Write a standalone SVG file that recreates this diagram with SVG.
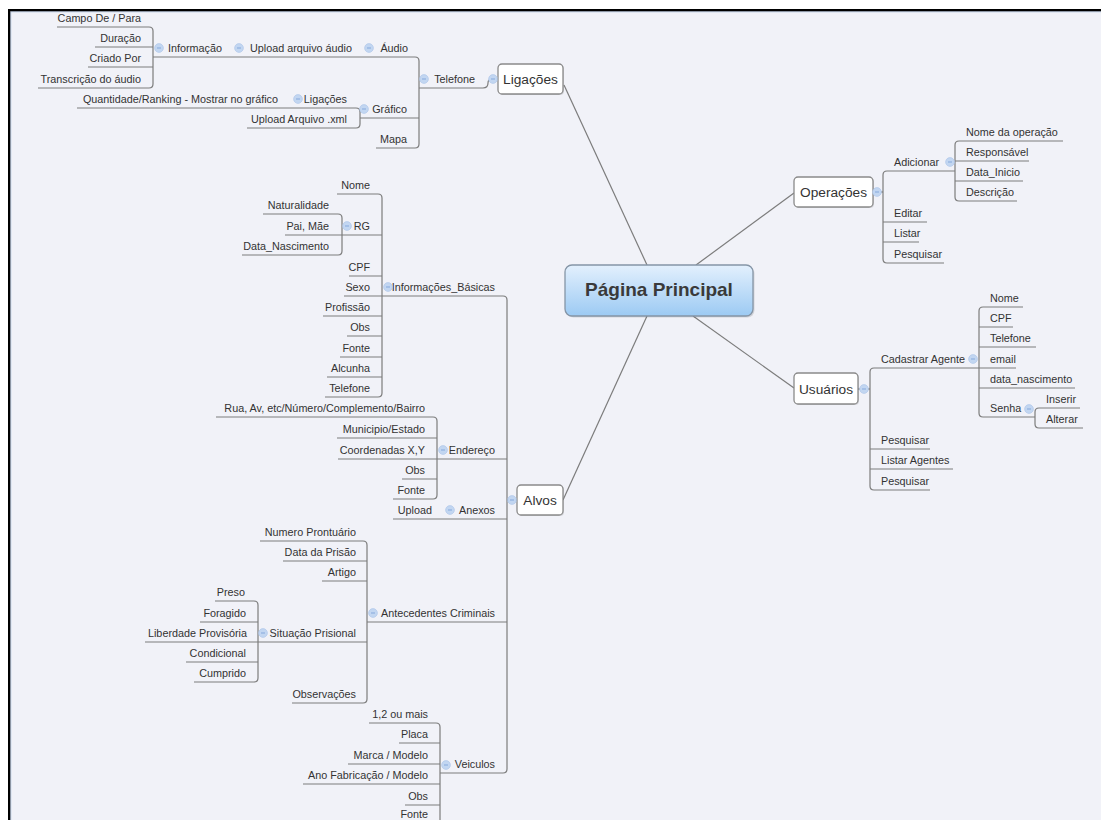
<svg xmlns="http://www.w3.org/2000/svg" width="1101" height="820" viewBox="0 0 1101 820">
  <style>
    .t { font-family: "Liberation Sans", Arial, sans-serif; font-size: 10.8px; fill: #333; }
    .e { text-anchor: end; }
    .bt { font-family: "Liberation Sans", Arial, sans-serif; font-size: 13.7px; fill: #333; text-anchor: middle; }
    .u { fill: none; stroke: #7c7c7c; stroke-width: 1.2; }
    .k { fill: none; stroke: #7c7c7c; stroke-width: 1.2; }
    .box { fill: #fff; stroke: #8a8a8a; stroke-width: 1.3; }
    .sh { fill: #000; opacity: 0.12; }
  </style>
  <defs>
    <linearGradient id="rootFill" x1="0" y1="0" x2="0" y2="1">
      <stop offset="0" stop-color="#e3f0fd"/>
      <stop offset="1" stop-color="#9ccaf3"/>
    </linearGradient>
    <g id="col">
      <circle r="4.4" fill="#c2d6f1" stroke="#a9c2e7" stroke-width="0.6"/>
      <path d="M-2 0H2" stroke="#86a9dc" stroke-width="1"/>
    </g>
  </defs>

  <!-- canvas and frame -->
  <rect width="1101" height="820" fill="#fff"/>
  <rect x="10" y="11" width="1091" height="809" fill="#f1f2f8"/>
  <path d="M10.8 820V11.8H1101" fill="none" stroke="#b9cce6" stroke-width="1"/>
  <rect x="8" y="9" width="1093" height="2.3" fill="#000"/>
  <rect x="8" y="9" width="2.3" height="811" fill="#000"/>

  <!-- connectors: branch lines from the central topic and the spines joining siblings -->
  <g id="connectors">
    <path class="k" d="M564 85L647 265"/>
    <path class="k" d="M696 265L794 193"/>
    <path class="k" d="M693 316L794 388"/>
    <path class="k" d="M647 316L563 500"/>

    <path class="k" d="M149 27Q153 27 153 31V84Q153 88 149 88"/>
    <path class="k" d="M415 57Q419 57 419 61V144Q419 148 415 148"/>
    <path class="k" d="M356 108Q360 108 360 112V124Q360 128 356 128"/>
    <path class="k" d="M419 88H483Q488 88 488 83Q488 79 492 79H498"/>

    <path class="k" d="M503 296Q507 296 507 300V769Q507 773 503 773"/>
    <path class="k" d="M507 500H517"/>
    <path class="k" d="M378 194Q382 194 382 198V393Q382 397 378 397"/>
    <path class="k" d="M338 214Q342 214 342 218V251Q342 255 338 255"/>
    <path class="k" d="M433 417Q437 417 437 421V495Q437 499 433 499"/>
    <path class="k" d="M363 541Q367 541 367 545V699Q367 703 363 703"/>
    <path class="k" d="M254 601Q258 601 258 605V678Q258 682 254 682"/>
    <path class="k" d="M436 723Q440 723 440 727V830"/>

    <path class="k" d="M873 192H883"/>
    <path class="k" d="M887 171Q883 171 883 175V259Q883 263 887 263"/>
    <path class="k" d="M959 141Q955 141 955 145V197Q955 201 959 201"/>

    <path class="k" d="M858 389H870"/>
    <path class="k" d="M874 368Q870 368 870 372V486Q870 490 874 490"/>
    <path class="k" d="M983 307Q979 307 979 311V413Q979 417 983 417"/>
    <path class="k" d="M1039 408Q1035 408 1035 412V424Q1035 428 1039 428"/>
  </g>

  <!-- central topic -->
  <g id="pagina-principal">
    <rect x="566.5" y="266.5" width="188" height="51" rx="7" class="sh"/>
    <rect x="565" y="265" width="188" height="51" rx="7" fill="url(#rootFill)" stroke="#8595a6" stroke-width="1.3"/>
    <text x="659" y="296" font-family="Liberation Sans, Arial, sans-serif" font-size="19px" font-weight="bold" fill="#3a3a3a" text-anchor="middle">Página Principal</text>
  </g>

  <!-- Ligações branch -->
  <g id="ligacoes">
    <rect x="499" y="65" width="65" height="30" rx="4" class="sh"/>
    <rect x="498" y="64" width="65" height="30" rx="4" class="box"/>
    <text class="bt" x="530.5" y="83.5">Ligações</text>
    <use href="#col" x="493" y="79"/>
  </g>
  <g id="telefone"><text class="t e" x="475" y="82.5">Telefone</text><use href="#col" x="424" y="79"/></g>
  <g id="audio"><text class="t e" x="408" y="51.5">Áudio</text><use href="#col" x="369" y="48"/><path class="u" d="M358 57H415"/></g>
  <g id="upload-audio"><text class="t e" x="352" y="51.5">Upload arquivo áudio</text><use href="#col" x="239" y="48"/><path class="u" d="M229 57H358"/></g>
  <g id="informacao"><text class="t e" x="222" y="51.5">Informação</text><use href="#col" x="159" y="48"/><path class="u" d="M153 57H229"/></g>
  <g id="campo"><text class="t e" x="141" y="21.5">Campo De / Para</text><path class="u" d="M57 27H149"/></g>
  <g id="duracao"><text class="t e" x="141" y="41.5">Duração</text><path class="u" d="M95 47H153"/></g>
  <g id="criado-por"><text class="t e" x="141" y="61.5">Criado Por</text><path class="u" d="M88 67H153"/></g>
  <g id="transcricao"><text class="t e" x="141" y="82.5">Transcrição do áudio</text><path class="u" d="M38 88H149"/></g>
  <g id="grafico"><text class="t e" x="407" y="112.5">Gráfico</text><use href="#col" x="364" y="109"/><path class="u" d="M360 118H419"/></g>
  <g id="ligacoes-grafico"><text class="t e" x="347" y="102.5">Ligações</text><use href="#col" x="298" y="99"/><path class="u" d="M293 108H356"/></g>
  <g id="quantidade"><text class="t e" x="278" y="102.5">Quantidade/Ranking - Mostrar no gráfico</text><path class="u" d="M77 108H293"/></g>
  <g id="upload-xml"><text class="t e" x="347" y="122.5">Upload Arquivo .xml</text><path class="u" d="M247 128H356"/></g>
  <g id="mapa"><text class="t e" x="407" y="142.5">Mapa</text><path class="u" d="M376 148H415"/></g>

  <!-- Alvos branch -->
  <g id="alvos">
    <rect x="518" y="486" width="46" height="30" rx="4" class="sh"/>
    <rect x="517" y="485" width="46" height="30" rx="4" class="box"/>
    <text class="bt" x="540" y="505">Alvos</text>
    <use href="#col" x="512" y="500"/>
  </g>
  <g id="informacoes-basicas"><text class="t e" x="495" y="290.5">Informações_Básicas</text><use href="#col" x="388" y="287"/><path class="u" d="M382 296H503"/></g>
  <g id="nome"><text class="t e" x="370" y="188.5">Nome</text><path class="u" d="M337 194H378"/></g>
  <g id="rg"><text class="t e" x="370" y="229.5">RG</text><use href="#col" x="347" y="226"/><path class="u" d="M342 235H382"/></g>
  <g id="naturalidade"><text class="t e" x="329" y="208.5">Naturalidade</text><path class="u" d="M263 214H338"/></g>
  <g id="pai-mae"><text class="t e" x="329" y="229.5">Pai, Mãe</text><path class="u" d="M285 235H342"/></g>
  <g id="data-nascimento"><text class="t e" x="329" y="249.5">Data_Nascimento</text><path class="u" d="M242 255H338"/></g>
  <g id="cpf"><text class="t e" x="370" y="270.5">CPF</text><path class="u" d="M349 276H382"/></g>
  <g id="sexo"><text class="t e" x="370" y="290.5">Sexo</text><path class="u" d="M344 296H382"/></g>
  <g id="profissao"><text class="t e" x="370" y="310.5">Profissão</text><path class="u" d="M323 316H382"/></g>
  <g id="obs-basicas"><text class="t e" x="370" y="330.5">Obs</text><path class="u" d="M347 336H382"/></g>
  <g id="fonte-basicas"><text class="t e" x="370" y="351.5">Fonte</text><path class="u" d="M340 357H382"/></g>
  <g id="alcunha"><text class="t e" x="370" y="371.5">Alcunha</text><path class="u" d="M327 377H382"/></g>
  <g id="telefone-alvo"><text class="t e" x="370" y="391.5">Telefone</text><path class="u" d="M325 397H378"/></g>

  <g id="endereco"><text class="t e" x="495" y="453.5">Endereço</text><use href="#col" x="443" y="450"/><path class="u" d="M437 459H507"/></g>
  <g id="rua"><text class="t e" x="425" y="411.5">Rua, Av, etc/Número/Complemento/Bairro</text><path class="u" d="M216 417H433"/></g>
  <g id="municipio"><text class="t e" x="425" y="432.5">Municipio/Estado</text><path class="u" d="M337 438H437"/></g>
  <g id="coordenadas"><text class="t e" x="425" y="453.5">Coordenadas X,Y</text><path class="u" d="M338 459H437"/></g>
  <g id="obs-endereco"><text class="t e" x="425" y="473.5">Obs</text><path class="u" d="M402 479H437"/></g>
  <g id="fonte-endereco"><text class="t e" x="425" y="493.5">Fonte</text><path class="u" d="M393 499H433"/></g>

  <g id="anexos"><text class="t e" x="495" y="513.5">Anexos</text><use href="#col" x="450" y="510"/><path class="u" d="M440 519H507"/></g>
  <g id="upload"><text class="t e" x="432" y="513.5">Upload</text><path class="u" d="M393 519H440"/></g>

  <g id="antecedentes"><text class="t e" x="495" y="616.5">Antecedentes Criminais</text><use href="#col" x="373" y="613"/><path class="u" d="M367 622H507"/></g>
  <g id="numero-prontuario"><text class="t e" x="356" y="535.5">Numero Prontuário</text><path class="u" d="M260 541H363"/></g>
  <g id="data-prisao"><text class="t e" x="356" y="555.5">Data da Prisão</text><path class="u" d="M283 561H367"/></g>
  <g id="artigo"><text class="t e" x="356" y="575.5">Artigo</text><path class="u" d="M322 581H367"/></g>
  <g id="situacao"><text class="t e" x="356" y="636.5">Situação Prisional</text><use href="#col" x="263" y="633"/><path class="u" d="M258 642H367"/></g>
  <g id="preso"><text class="t e" x="245" y="595.5">Preso</text><path class="u" d="M215 601H254"/></g>
  <g id="foragido"><text class="t e" x="246" y="616.5">Foragido</text><path class="u" d="M200 622H258"/></g>
  <g id="liberdade"><text class="t e" x="247" y="636.5">Liberdade Provisória</text><path class="u" d="M145 642H258"/></g>
  <g id="condicional"><text class="t e" x="246" y="656.5">Condicional</text><path class="u" d="M186 662H258"/></g>
  <g id="cumprido"><text class="t e" x="246" y="676.5">Cumprido</text><path class="u" d="M194 682H254"/></g>
  <g id="observacoes"><text class="t e" x="356" y="697.5">Observações</text><path class="u" d="M292 703H363"/></g>

  <g id="veiculos"><text class="t e" x="495" y="767.5">Veiculos</text><use href="#col" x="446" y="765"/><path class="u" d="M440 773H503"/></g>
  <g id="quantidade-veiculos"><text class="t e" x="428" y="717.5">1,2 ou mais</text><path class="u" d="M369 723H436"/></g>
  <g id="placa"><text class="t e" x="428" y="737.5">Placa</text><path class="u" d="M399 743H440"/></g>
  <g id="marca"><text class="t e" x="428" y="758.5">Marca / Modelo</text><path class="u" d="M348 764H440"/></g>
  <g id="ano"><text class="t e" x="428" y="778.5">Ano Fabricação / Modelo</text><path class="u" d="M303 784H440"/></g>
  <g id="obs-veiculos"><text class="t e" x="428" y="799.5">Obs</text><path class="u" d="M405 805H440"/></g>
  <g id="fonte-veiculos"><text class="t e" x="428" y="817.5">Fonte</text><path class="u" d="M397 826H440"/></g>

  <!-- Operações branch -->
  <g id="operacoes">
    <rect x="795" y="178" width="79" height="30" rx="4" class="sh"/>
    <rect x="794" y="177" width="79" height="30" rx="4" class="box"/>
    <text class="bt" x="833.5" y="197">Operações</text>
    <use href="#col" x="877" y="192"/>
  </g>
  <g id="adicionar"><text class="t" x="894" y="165.5">Adicionar</text><use href="#col" x="950" y="162"/><path class="u" d="M887 171H955"/></g>
  <g id="nome-operacao"><text class="t" x="966" y="135.5">Nome da operação</text><path class="u" d="M959 141H1063"/></g>
  <g id="responsavel"><text class="t" x="966" y="155.5">Responsável</text><path class="u" d="M955 161H1029"/></g>
  <g id="data-inicio"><text class="t" x="966" y="175.5">Data_Inicio</text><path class="u" d="M955 181H1023"/></g>
  <g id="descricao"><text class="t" x="966" y="195.5">Descrição</text><path class="u" d="M959 201H1017"/></g>
  <g id="editar"><text class="t" x="894" y="216.5">Editar</text><path class="u" d="M883 222H927"/></g>
  <g id="listar"><text class="t" x="894" y="236.5">Listar</text><path class="u" d="M883 242H919"/></g>
  <g id="pesquisar-operacoes"><text class="t" x="894" y="257.5">Pesquisar</text><path class="u" d="M887 263H944"/></g>

  <!-- Usuários branch -->
  <g id="usuarios">
    <rect x="795" y="374" width="64" height="31" rx="4" class="sh"/>
    <rect x="794" y="373" width="64" height="31" rx="4" class="box"/>
    <text class="bt" x="826" y="394">Usuários</text>
    <use href="#col" x="864" y="389"/>
  </g>
  <g id="cadastrar-agente"><text class="t" x="881" y="362.5">Cadastrar Agente</text><use href="#col" x="973" y="359"/><path class="u" d="M874 368H979"/></g>
  <g id="nome-agente"><text class="t" x="990" y="301.5">Nome</text><path class="u" d="M983 307H1023"/></g>
  <g id="cpf-agente"><text class="t" x="990" y="321.5">CPF</text><path class="u" d="M979 327H1013"/></g>
  <g id="telefone-agente"><text class="t" x="990" y="341.5">Telefone</text><path class="u" d="M979 347H1036"/></g>
  <g id="email"><text class="t" x="990" y="362.5">email</text><path class="u" d="M979 368H1016"/></g>
  <g id="data-nascimento-agente"><text class="t" x="990" y="382.5">data_nascimento</text><path class="u" d="M979 388H1075"/></g>
  <g id="senha"><text class="t" x="990" y="411.5">Senha</text><use href="#col" x="1029" y="409"/><path class="u" d="M983 417H1035"/></g>
  <g id="inserir"><text class="t" x="1046" y="402.5">Inserir</text><path class="u" d="M1039 408H1080"/></g>
  <g id="alterar"><text class="t" x="1046" y="422.5">Alterar</text><path class="u" d="M1039 428H1083"/></g>
  <g id="pesquisar-usuarios"><text class="t" x="881" y="443.5">Pesquisar</text><path class="u" d="M870 449H930"/></g>
  <g id="listar-agentes"><text class="t" x="881" y="463.5">Listar Agentes</text><path class="u" d="M870 469H953"/></g>
  <g id="pesquisar-agentes"><text class="t" x="881" y="484.5">Pesquisar</text><path class="u" d="M874 490H930"/></g>
</svg>
